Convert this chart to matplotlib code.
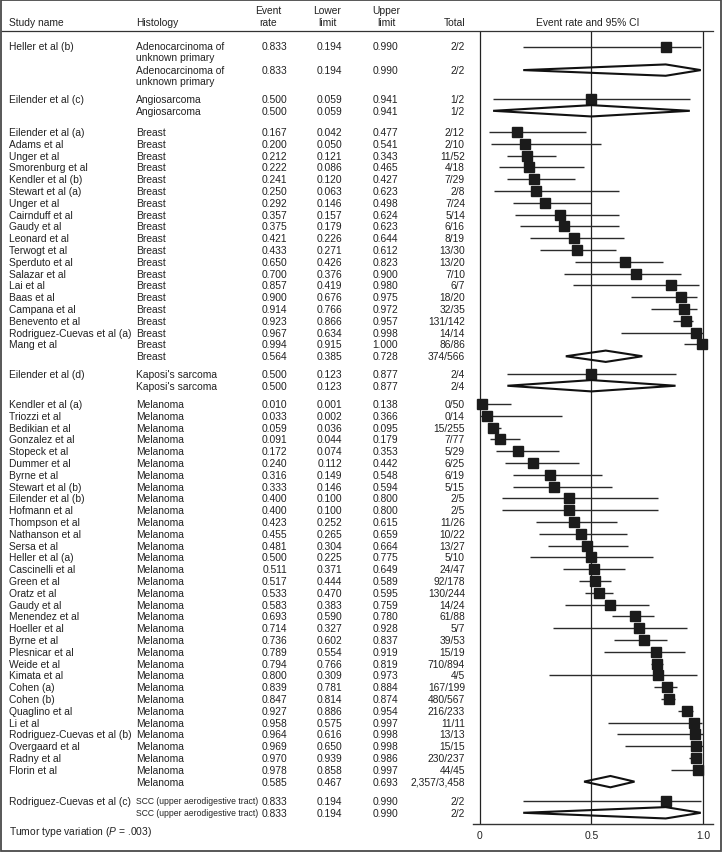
import matplotlib
matplotlib.use("Agg")
import matplotlib.pyplot as plt
import matplotlib.transforms as mtransforms
from matplotlib.patches import Polygon, Rectangle
from matplotlib.lines import Line2D

plt.rcParams['font.family'] = ['Liberation Sans', 'DejaVu Sans']
plt.rcParams['mathtext.fontset'] = 'custom'
plt.rcParams['mathtext.rm'] = 'Liberation Sans'
plt.rcParams['mathtext.it'] = 'Liberation Sans:italic'

# Individual studies (in display order)
study_names = [
    "Heller et al (b)",
    "Eilender et al (c)",
    "Eilender et al (a)", "Adams et al", "Unger et al", "Smorenburg et al",
    "Kendler et al (b)", "Stewart et al (a)", "Unger et al", "Cairnduff et al",
    "Gaudy et al", "Leonard et al", "Terwogt et al", "Sperduto et al",
    "Salazar et al", "Lai et al", "Baas et al", "Campana et al",
    "Benevento et al", "Rodriguez-Cuevas et al (a)", "Mang et al",
    "Eilender et al (d)",
    "Kendler et al (a)", "Triozzi et al", "Bedikian et al", "Gonzalez et al",
    "Stopeck et al", "Dummer et al", "Byrne et al", "Stewart et al (b)",
    "Eilender et al (b)", "Hofmann et al", "Thompson et al", "Nathanson et al",
    "Sersa et al", "Heller et al (a)", "Cascinelli et al", "Green et al",
    "Oratz et al", "Gaudy et al", "Menendez et al", "Hoeller et al",
    "Byrne et al", "Plesnicar et al", "Weide et al", "Kimata et al",
    "Cohen (a)", "Cohen (b)", "Quaglino et al", "Li et al",
    "Rodriguez-Cuevas et al (b)", "Overgaard et al", "Radny et al", "Florin et al",
    "Rodriguez-Cuevas et al (c)",
]
study_group = [0, 1] + [2] * 19 + [3] + [4] * 32 + [5]
event_rate = [
    0.833, 0.500,
    0.167, 0.200, 0.212, 0.222, 0.241, 0.250, 0.292, 0.357, 0.375, 0.421,
    0.433, 0.650, 0.700, 0.857, 0.900, 0.914, 0.923, 0.967, 0.994,
    0.500,
    0.010, 0.033, 0.059, 0.091, 0.172, 0.240, 0.316, 0.333, 0.400, 0.400,
    0.423, 0.455, 0.481, 0.500, 0.511, 0.517, 0.533, 0.583, 0.693, 0.714,
    0.736, 0.789, 0.794, 0.800, 0.839, 0.847, 0.927, 0.958, 0.964, 0.969,
    0.970, 0.978,
    0.833,
]
lower_limit = [
    0.194, 0.059,
    0.042, 0.050, 0.121, 0.086, 0.120, 0.063, 0.146, 0.157, 0.179, 0.226,
    0.271, 0.426, 0.376, 0.419, 0.676, 0.766, 0.866, 0.634, 0.915,
    0.123,
    0.001, 0.002, 0.036, 0.044, 0.074, 0.112, 0.149, 0.146, 0.100, 0.100,
    0.252, 0.265, 0.304, 0.225, 0.371, 0.444, 0.470, 0.383, 0.590, 0.327,
    0.602, 0.554, 0.766, 0.309, 0.781, 0.814, 0.886, 0.575, 0.616, 0.650,
    0.939, 0.858,
    0.194,
]
upper_limit = [
    0.990, 0.941,
    0.477, 0.541, 0.343, 0.465, 0.427, 0.623, 0.498, 0.624, 0.623, 0.644,
    0.612, 0.823, 0.900, 0.980, 0.975, 0.972, 0.957, 0.998, 1.000,
    0.877,
    0.138, 0.366, 0.095, 0.179, 0.353, 0.442, 0.548, 0.594, 0.800, 0.800,
    0.615, 0.659, 0.664, 0.775, 0.649, 0.589, 0.595, 0.759, 0.780, 0.928,
    0.837, 0.919, 0.819, 0.973, 0.884, 0.874, 0.954, 0.997, 0.998, 0.998,
    0.986, 0.997,
    0.990,
]
totals = [
    "2/2", "1/2",
    "2/12", "2/10", "11/52", "4/18", "7/29", "2/8", "7/24", "5/14", "6/16",
    "8/19", "13/30", "13/20", "7/10", "6/7", "18/20", "32/35", "131/142",
    "14/14", "86/86",
    "2/4",
    "0/50", "0/14", "15/255", "7/77", "5/29", "6/25", "6/19", "5/15", "2/5",
    "2/5", "11/26", "10/22", "13/27", "5/10", "24/47", "92/178", "130/244",
    "14/24", "61/88", "5/7", "39/53", "15/19", "710/894", "4/5", "167/199",
    "480/567", "216/233", "11/11", "13/13", "15/15", "230/237", "44/45",
    "2/2",
]

# Pooled results per histology
histology = [
    "Adenocarcinoma of\nunknown primary", "Angiosarcoma", "Breast",
    "Kaposi's sarcoma", "Melanoma", "SCC (upper aerodigestive tract)",
]
pooled_rate = [0.833, 0.500, 0.564, 0.500, 0.585, 0.833]
pooled_lower = [0.194, 0.059, 0.385, 0.123, 0.467, 0.194]
pooled_upper = [0.990, 0.941, 0.728, 0.877, 0.693, 0.990]
pooled_total = ["2/2", "1/2", "374/566", "2/4", "2,357/3,458", "2/2"]

tick_vals = [0, 0.5, 1.0]
tick_labels = ["0", "0.5", "1.0"]

# ---- layout (pixels) ----
W, H = 722, 853
ROW0, PITCH = 47.5, 11.8
group_gap = [0.45, 0.8, 0.5, 0.55, 0.64, 0]


def row(px):
    return (px - ROW0) / PITCH


# row positions for studies and pooled rows
study_y, pooled_y = [], []
y = 0.0
for g, h in enumerate(histology):
    step = 2 if "\n" in h else 1
    for i, sg in enumerate(study_group):
        if sg == g:
            study_y.append(y)
            y += step
    pooled_y.append(y)
    y += step + group_gap[g]

fig = plt.figure(figsize=(W / 100, H / 100), dpi=100)
ax_left, ax_right = 472.6, 713.0
ax = fig.add_axes([ax_left / W, (H - 825) / H, (ax_right - ax_left) / W, (825 - 32) / H])
ax.set_xlim(-0.033, 1.045)
ax.set_ylim(row(825), row(32))
for s in ["top", "left", "right"]:
    ax.spines[s].set_visible(False)
ax.spines["bottom"].set_color("#333333")
ax.spines["bottom"].set_linewidth(1.0)
ax.set_yticks([])
ax.set_xticks(tick_vals)
ax.set_xticklabels(tick_labels)
ax.tick_params(axis="x", length=0, pad=4, labelsize=7.4, labelcolor="#222222")

ink = "#222222"
ax.vlines(tick_vals, row(825), row(32), color=ink, lw=0.9, zorder=1)

# study CIs and boxes
ax.hlines(study_y, lower_limit, upper_limit, color="#2b2b2b", lw=1.0, zorder=2)
ax.plot(event_rate, study_y, "s", ms=6.5, color="#1b1b1b", zorder=3)

# pooled diamonds
hh = 0.48
for est, lo, hi, yy in zip(pooled_rate, pooled_lower, pooled_upper, pooled_y):
    ax.add_patch(Polygon([(lo, yy), (est, yy - hh), (hi, yy), (est, yy + hh)],
                         closed=True, fill=False, ec="#111111", lw=1.5, zorder=3))

# ---- table text ----
tr = mtransforms.blended_transform_factory(fig.transFigure, ax.transData)
fs = 7.4
kw = dict(transform=tr, fontsize=fs, color=ink, va="center", clip_on=False)
col_name, col_hist = 9, 136
col_rate, col_lo, col_hi, col_tot = 287, 342, 398, 465


def put(px, yy, s, ha="left", size=fs):
    ax.text(px / W, yy, s, ha=ha, **{**kw, "fontsize": size})


def put_hist(yy, s):
    size = 6.2 if s.startswith("SCC") else fs
    for k, line in enumerate(s.split("\n")):
        put(col_hist, yy + k * 0.9, line, size=size)


def put_numbers(yy, est, lo, hi, tot):
    put(col_rate, yy, f"{est:.3f}", ha="right")
    put(col_lo, yy, f"{lo:.3f}", ha="right")
    put(col_hi, yy, f"{hi:.3f}", ha="right")
    put(col_tot, yy, tot, ha="right")


for i, yy in enumerate(study_y):
    put(col_name, yy, study_names[i])
    put_hist(yy, histology[study_group[i]])
    put_numbers(yy, event_rate[i], lower_limit[i], upper_limit[i], totals[i])

for g, yy in enumerate(pooled_y):
    put_hist(yy, histology[g])
    put_numbers(yy, pooled_rate[g], pooled_lower[g], pooled_upper[g], pooled_total[g])

# header
hy1, hy2 = row(11), row(23)
put(col_name, hy2, "Study name")
put(col_hist, hy2, "Histology")
put(268, hy1, "Event", ha="center")
put(268, hy2, "rate", ha="center")
put(327, hy1, "Lower", ha="center")
put(327, hy2, "limit", ha="center")
put(386, hy1, "Upper", ha="center")
put(386, hy2, "limit", ha="center")
put(col_tot, hy2, "Total", ha="right")
put(588, hy2, "Event rate and 95% CI", ha="center")

put(col_name, row(832), "Tumor type variation ($P$ = .003)")

# header rule and outer frame
fig.add_artist(Line2D([2 / W, ax_right / W], [row(32), row(32)], transform=tr,
                      color="#333333", lw=0.9))
fig.add_artist(Rectangle((0.7 / W, 0.7 / H), (W - 1.4) / W, (H - 1.4) / H,
                         transform=fig.transFigure, fill=False,
                         ec="#4a4a4a", lw=1.3))

fig.savefig("out.png", dpi=100)
